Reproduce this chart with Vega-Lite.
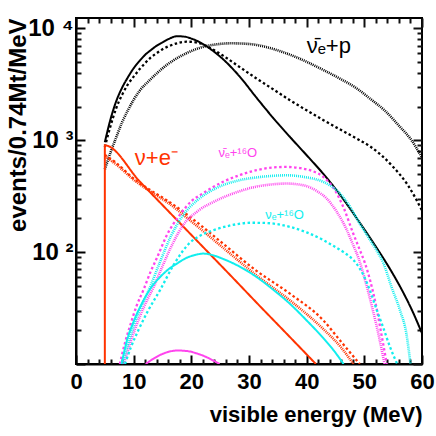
{
  "$schema": "https://vega.github.io/schema/vega-lite/v6.json",
  "width": 346,
  "height": 346,
  "autosize": {"type": "none"},
  "padding": {"left": 76, "top": 18, "right": 14, "bottom": 72},
  "background": "white",
  "config": {"view": {"stroke": "black", "strokeWidth": 2, "fill": "transparent"}, "font": "Liberation Sans", "axis": {"zindex": 1}},
  "datasets": {
    "curves": [
      {"reaction":"nuebar_p","model":"A","i":1,"E":5,"v":960},
      {"reaction":"nuebar_p","model":"A","i":2,"E":6,"v":1550},
      {"reaction":"nuebar_p","model":"A","i":3,"E":7,"v":2250},
      {"reaction":"nuebar_p","model":"A","i":4,"E":8,"v":2950},
      {"reaction":"nuebar_p","model":"A","i":5,"E":9,"v":3650},
      {"reaction":"nuebar_p","model":"A","i":6,"E":10,"v":4400},
      {"reaction":"nuebar_p","model":"A","i":7,"E":11,"v":5100},
      {"reaction":"nuebar_p","model":"A","i":8,"E":12,"v":5800},
      {"reaction":"nuebar_p","model":"A","i":9,"E":13,"v":6400},
      {"reaction":"nuebar_p","model":"A","i":10,"E":14,"v":7000},
      {"reaction":"nuebar_p","model":"A","i":11,"E":15,"v":7500},
      {"reaction":"nuebar_p","model":"A","i":12,"E":16,"v":8000},
      {"reaction":"nuebar_p","model":"A","i":13,"E":17.5,"v":8500},
      {"reaction":"nuebar_p","model":"A","i":14,"E":19,"v":8400},
      {"reaction":"nuebar_p","model":"A","i":15,"E":20,"v":8100},
      {"reaction":"nuebar_p","model":"A","i":16,"E":21.5,"v":7500},
      {"reaction":"nuebar_p","model":"A","i":17,"E":23.2,"v":6600},
      {"reaction":"nuebar_p","model":"A","i":18,"E":25.5,"v":5300},
      {"reaction":"nuebar_p","model":"A","i":19,"E":28.4,"v":3700},
      {"reaction":"nuebar_p","model":"A","i":20,"E":31.3,"v":2400},
      {"reaction":"nuebar_p","model":"A","i":21,"E":34.2,"v":1580},
      {"reaction":"nuebar_p","model":"A","i":22,"E":37.1,"v":1070},
      {"reaction":"nuebar_p","model":"A","i":23,"E":40,"v":734},
      {"reaction":"nuebar_p","model":"A","i":24,"E":42.9,"v":500},
      {"reaction":"nuebar_p","model":"A","i":25,"E":46.4,"v":295},
      {"reaction":"nuebar_p","model":"A","i":26,"E":49,"v":190},
      {"reaction":"nuebar_p","model":"A","i":27,"E":52.4,"v":104},
      {"reaction":"nuebar_p","model":"A","i":28,"E":54.5,"v":70},
      {"reaction":"nuebar_p","model":"A","i":29,"E":56.5,"v":46},
      {"reaction":"nuebar_p","model":"A","i":30,"E":58.3,"v":30},
      {"reaction":"nuebar_p","model":"A","i":31,"E":60,"v":18.8},

      {"reaction":"nuebar_p","model":"B","i":1,"E":5,"v":870},
      {"reaction":"nuebar_p","model":"B","i":2,"E":6,"v":1350},
      {"reaction":"nuebar_p","model":"B","i":3,"E":7,"v":1950},
      {"reaction":"nuebar_p","model":"B","i":4,"E":8,"v":2550},
      {"reaction":"nuebar_p","model":"B","i":5,"E":9,"v":3150},
      {"reaction":"nuebar_p","model":"B","i":6,"E":10,"v":3700},
      {"reaction":"nuebar_p","model":"B","i":7,"E":11,"v":4300},
      {"reaction":"nuebar_p","model":"B","i":8,"E":12,"v":4900},
      {"reaction":"nuebar_p","model":"B","i":9,"E":13,"v":5500},
      {"reaction":"nuebar_p","model":"B","i":10,"E":14,"v":6000},
      {"reaction":"nuebar_p","model":"B","i":11,"E":15,"v":6500},
      {"reaction":"nuebar_p","model":"B","i":12,"E":16,"v":6900},
      {"reaction":"nuebar_p","model":"B","i":13,"E":17.5,"v":7350},
      {"reaction":"nuebar_p","model":"B","i":14,"E":19.2,"v":7600},
      {"reaction":"nuebar_p","model":"B","i":15,"E":21,"v":7450},
      {"reaction":"nuebar_p","model":"B","i":16,"E":23.2,"v":6700},
      {"reaction":"nuebar_p","model":"B","i":17,"E":25.5,"v":5700},
      {"reaction":"nuebar_p","model":"B","i":18,"E":28.4,"v":4500},
      {"reaction":"nuebar_p","model":"B","i":19,"E":31.3,"v":3565},
      {"reaction":"nuebar_p","model":"B","i":20,"E":34.2,"v":2850},
      {"reaction":"nuebar_p","model":"B","i":21,"E":37.1,"v":2280},
      {"reaction":"nuebar_p","model":"B","i":22,"E":40,"v":1850},
      {"reaction":"nuebar_p","model":"B","i":23,"E":42.9,"v":1510},
      {"reaction":"nuebar_p","model":"B","i":24,"E":46.6,"v":1185},
      {"reaction":"nuebar_p","model":"B","i":25,"E":49.2,"v":1000},
      {"reaction":"nuebar_p","model":"B","i":26,"E":51,"v":880},
      {"reaction":"nuebar_p","model":"B","i":27,"E":53,"v":730},
      {"reaction":"nuebar_p","model":"B","i":28,"E":55,"v":577},
      {"reaction":"nuebar_p","model":"B","i":29,"E":57.5,"v":400},
      {"reaction":"nuebar_p","model":"B","i":30,"E":60,"v":236},

      {"reaction":"nuebar_p","model":"C","i":1,"E":5,"v":550},
      {"reaction":"nuebar_p","model":"C","i":2,"E":6,"v":780},
      {"reaction":"nuebar_p","model":"C","i":3,"E":7,"v":1070},
      {"reaction":"nuebar_p","model":"C","i":4,"E":8,"v":1450},
      {"reaction":"nuebar_p","model":"C","i":5,"E":9,"v":1850},
      {"reaction":"nuebar_p","model":"C","i":6,"E":10,"v":2300},
      {"reaction":"nuebar_p","model":"C","i":7,"E":11,"v":2750},
      {"reaction":"nuebar_p","model":"C","i":8,"E":12.8,"v":3450},
      {"reaction":"nuebar_p","model":"C","i":9,"E":15.7,"v":4690},
      {"reaction":"nuebar_p","model":"C","i":10,"E":18.6,"v":5800},
      {"reaction":"nuebar_p","model":"C","i":11,"E":21.5,"v":6700},
      {"reaction":"nuebar_p","model":"C","i":12,"E":24.4,"v":7200},
      {"reaction":"nuebar_p","model":"C","i":13,"E":27,"v":7350},
      {"reaction":"nuebar_p","model":"C","i":14,"E":30,"v":7250},
      {"reaction":"nuebar_p","model":"C","i":15,"E":33,"v":6800},
      {"reaction":"nuebar_p","model":"C","i":16,"E":36,"v":6100},
      {"reaction":"nuebar_p","model":"C","i":17,"E":39,"v":5300},
      {"reaction":"nuebar_p","model":"C","i":18,"E":42.9,"v":4240},
      {"reaction":"nuebar_p","model":"C","i":19,"E":46,"v":3500},
      {"reaction":"nuebar_p","model":"C","i":20,"E":48.7,"v":2900},
      {"reaction":"nuebar_p","model":"C","i":21,"E":51,"v":2350},
      {"reaction":"nuebar_p","model":"C","i":22,"E":53.5,"v":1850},
      {"reaction":"nuebar_p","model":"C","i":23,"E":56.2,"v":1316},
      {"reaction":"nuebar_p","model":"C","i":24,"E":58,"v":1030},
      {"reaction":"nuebar_p","model":"C","i":25,"E":59.6,"v":760},
      {"reaction":"nuebar_p","model":"C","i":26,"E":60,"v":700},

      {"reaction":"nu_e","model":"A","i":1,"E":5,"v":10},
      {"reaction":"nu_e","model":"A","i":2,"E":5,"v":900},
      {"reaction":"nu_e","model":"A","i":3,"E":11.1,"v":425},
      {"reaction":"nu_e","model":"A","i":4,"E":19.8,"v":146},
      {"reaction":"nu_e","model":"A","i":5,"E":27.9,"v":54},
      {"reaction":"nu_e","model":"A","i":6,"E":31.3,"v":35.4},
      {"reaction":"nu_e","model":"A","i":7,"E":37.1,"v":17.4},
      {"reaction":"nu_e","model":"A","i":8,"E":41.6,"v":10},

      {"reaction":"nu_e","model":"B","i":1,"E":5,"v":740},
      {"reaction":"nu_e","model":"B","i":2,"E":7,"v":625},
      {"reaction":"nu_e","model":"B","i":3,"E":10.2,"v":445},
      {"reaction":"nu_e","model":"B","i":4,"E":13,"v":355},
      {"reaction":"nu_e","model":"B","i":5,"E":16,"v":285},
      {"reaction":"nu_e","model":"B","i":6,"E":19.8,"v":206},
      {"reaction":"nu_e","model":"B","i":7,"E":25,"v":125},
      {"reaction":"nu_e","model":"B","i":8,"E":31.3,"v":68},
      {"reaction":"nu_e","model":"B","i":9,"E":37.1,"v":42.5},
      {"reaction":"nu_e","model":"B","i":10,"E":42.9,"v":24.5},
      {"reaction":"nu_e","model":"B","i":11,"E":45.8,"v":16.2},
      {"reaction":"nu_e","model":"B","i":12,"E":49.2,"v":10},

      {"reaction":"nu_e","model":"C","i":1,"E":5,"v":720},
      {"reaction":"nu_e","model":"C","i":2,"E":7,"v":605},
      {"reaction":"nu_e","model":"C","i":3,"E":10.2,"v":435},
      {"reaction":"nu_e","model":"C","i":4,"E":13,"v":345},
      {"reaction":"nu_e","model":"C","i":5,"E":16,"v":275},
      {"reaction":"nu_e","model":"C","i":6,"E":19.8,"v":192},
      {"reaction":"nu_e","model":"C","i":7,"E":25,"v":115},
      {"reaction":"nu_e","model":"C","i":8,"E":31.3,"v":62},
      {"reaction":"nu_e","model":"C","i":9,"E":37.1,"v":37},
      {"reaction":"nu_e","model":"C","i":10,"E":42.9,"v":20.5},
      {"reaction":"nu_e","model":"C","i":11,"E":46,"v":14},
      {"reaction":"nu_e","model":"C","i":12,"E":48.1,"v":10},

      {"reaction":"nuebar_O","model":"A","i":1,"E":12.1,"v":10},
      {"reaction":"nuebar_O","model":"A","i":2,"E":13,"v":10.8},
      {"reaction":"nuebar_O","model":"A","i":3,"E":14,"v":11.6},
      {"reaction":"nuebar_O","model":"A","i":4,"E":15.5,"v":12.6},
      {"reaction":"nuebar_O","model":"A","i":5,"E":17.7,"v":13.2},
      {"reaction":"nuebar_O","model":"A","i":6,"E":19.5,"v":13.0},
      {"reaction":"nuebar_O","model":"A","i":7,"E":21,"v":12.4},
      {"reaction":"nuebar_O","model":"A","i":8,"E":22.5,"v":11.6},
      {"reaction":"nuebar_O","model":"A","i":9,"E":24,"v":10.6},
      {"reaction":"nuebar_O","model":"A","i":10,"E":24.9,"v":10},

      {"reaction":"nuebar_O","model":"B","i":1,"E":7.6,"v":10},
      {"reaction":"nuebar_O","model":"B","i":2,"E":8.5,"v":15.5},
      {"reaction":"nuebar_O","model":"B","i":3,"E":9.5,"v":23},
      {"reaction":"nuebar_O","model":"B","i":4,"E":10.5,"v":33},
      {"reaction":"nuebar_O","model":"B","i":5,"E":11.7,"v":46},
      {"reaction":"nuebar_O","model":"B","i":6,"E":13,"v":68},
      {"reaction":"nuebar_O","model":"B","i":7,"E":14,"v":88},
      {"reaction":"nuebar_O","model":"B","i":8,"E":15.7,"v":140},
      {"reaction":"nuebar_O","model":"B","i":9,"E":18,"v":215},
      {"reaction":"nuebar_O","model":"B","i":10,"E":20,"v":285},
      {"reaction":"nuebar_O","model":"B","i":11,"E":22,"v":335},
      {"reaction":"nuebar_O","model":"B","i":12,"E":25.5,"v":425},
      {"reaction":"nuebar_O","model":"B","i":13,"E":28.5,"v":490},
      {"reaction":"nuebar_O","model":"B","i":14,"E":31.3,"v":540},
      {"reaction":"nuebar_O","model":"B","i":15,"E":34,"v":570},
      {"reaction":"nuebar_O","model":"B","i":16,"E":36.5,"v":577},
      {"reaction":"nuebar_O","model":"B","i":17,"E":39,"v":562},
      {"reaction":"nuebar_O","model":"B","i":18,"E":41,"v":530},
      {"reaction":"nuebar_O","model":"B","i":19,"E":42.9,"v":470},
      {"reaction":"nuebar_O","model":"B","i":20,"E":45,"v":350},
      {"reaction":"nuebar_O","model":"B","i":21,"E":46.4,"v":250},
      {"reaction":"nuebar_O","model":"B","i":22,"E":48,"v":150},
      {"reaction":"nuebar_O","model":"B","i":23,"E":49.2,"v":105},
      {"reaction":"nuebar_O","model":"B","i":24,"E":50.1,"v":80},
      {"reaction":"nuebar_O","model":"B","i":25,"E":51,"v":56},
      {"reaction":"nuebar_O","model":"B","i":26,"E":52.1,"v":32},
      {"reaction":"nuebar_O","model":"B","i":27,"E":53,"v":18},
      {"reaction":"nuebar_O","model":"B","i":28,"E":53.9,"v":10},

      {"reaction":"nuebar_O","model":"C","i":1,"E":8.3,"v":10},
      {"reaction":"nuebar_O","model":"C","i":2,"E":9.5,"v":16},
      {"reaction":"nuebar_O","model":"C","i":3,"E":11,"v":26},
      {"reaction":"nuebar_O","model":"C","i":4,"E":12.3,"v":37},
      {"reaction":"nuebar_O","model":"C","i":5,"E":13.4,"v":48},
      {"reaction":"nuebar_O","model":"C","i":6,"E":15,"v":75},
      {"reaction":"nuebar_O","model":"C","i":7,"E":16.8,"v":120},
      {"reaction":"nuebar_O","model":"C","i":8,"E":18.6,"v":175},
      {"reaction":"nuebar_O","model":"C","i":9,"E":21,"v":230},
      {"reaction":"nuebar_O","model":"C","i":10,"E":24.4,"v":290},
      {"reaction":"nuebar_O","model":"C","i":11,"E":28,"v":345},
      {"reaction":"nuebar_O","model":"C","i":12,"E":31.3,"v":385},
      {"reaction":"nuebar_O","model":"C","i":13,"E":34,"v":403},
      {"reaction":"nuebar_O","model":"C","i":14,"E":36.5,"v":410},
      {"reaction":"nuebar_O","model":"C","i":15,"E":39.5,"v":395},
      {"reaction":"nuebar_O","model":"C","i":16,"E":42,"v":345},
      {"reaction":"nuebar_O","model":"C","i":17,"E":43.5,"v":300},
      {"reaction":"nuebar_O","model":"C","i":18,"E":45.2,"v":230},
      {"reaction":"nuebar_O","model":"C","i":19,"E":46.9,"v":160},
      {"reaction":"nuebar_O","model":"C","i":20,"E":48,"v":118},
      {"reaction":"nuebar_O","model":"C","i":21,"E":49,"v":88},
      {"reaction":"nuebar_O","model":"C","i":22,"E":50.4,"v":50},
      {"reaction":"nuebar_O","model":"C","i":23,"E":51.5,"v":30},
      {"reaction":"nuebar_O","model":"C","i":24,"E":52.6,"v":17},
      {"reaction":"nuebar_O","model":"C","i":25,"E":53.5,"v":10},

      {"reaction":"nue_O","model":"A","i":1,"E":7.9,"v":10},
      {"reaction":"nue_O","model":"A","i":2,"E":8.8,"v":16},
      {"reaction":"nue_O","model":"A","i":3,"E":10,"v":24},
      {"reaction":"nue_O","model":"A","i":4,"E":11.7,"v":37},
      {"reaction":"nue_O","model":"A","i":5,"E":13,"v":48},
      {"reaction":"nue_O","model":"A","i":6,"E":14.6,"v":60},
      {"reaction":"nue_O","model":"A","i":7,"E":16,"v":70},
      {"reaction":"nue_O","model":"A","i":8,"E":17.5,"v":79},
      {"reaction":"nue_O","model":"A","i":9,"E":19,"v":88},
      {"reaction":"nue_O","model":"A","i":10,"E":20.9,"v":95},
      {"reaction":"nue_O","model":"A","i":11,"E":22.1,"v":97},
      {"reaction":"nue_O","model":"A","i":12,"E":24,"v":93},
      {"reaction":"nue_O","model":"A","i":13,"E":25.5,"v":87},
      {"reaction":"nue_O","model":"A","i":14,"E":28,"v":76},
      {"reaction":"nue_O","model":"A","i":15,"E":31.3,"v":60},
      {"reaction":"nue_O","model":"A","i":16,"E":34,"v":47},
      {"reaction":"nue_O","model":"A","i":17,"E":37.1,"v":34.5},
      {"reaction":"nue_O","model":"A","i":18,"E":40,"v":24.5},
      {"reaction":"nue_O","model":"A","i":19,"E":42.9,"v":17},
      {"reaction":"nue_O","model":"A","i":20,"E":44.8,"v":13},
      {"reaction":"nue_O","model":"A","i":21,"E":46.4,"v":10},

      {"reaction":"nue_O","model":"B","i":1,"E":8.5,"v":10},
      {"reaction":"nue_O","model":"B","i":2,"E":9.5,"v":14},
      {"reaction":"nue_O","model":"B","i":3,"E":11,"v":21},
      {"reaction":"nue_O","model":"B","i":4,"E":12.5,"v":30},
      {"reaction":"nue_O","model":"B","i":5,"E":14.6,"v":46},
      {"reaction":"nue_O","model":"B","i":6,"E":17,"v":78},
      {"reaction":"nue_O","model":"B","i":7,"E":19.8,"v":122},
      {"reaction":"nue_O","model":"B","i":8,"E":21.5,"v":140},
      {"reaction":"nue_O","model":"B","i":9,"E":24,"v":158},
      {"reaction":"nue_O","model":"B","i":10,"E":27,"v":174},
      {"reaction":"nue_O","model":"B","i":11,"E":30.2,"v":183},
      {"reaction":"nue_O","model":"B","i":12,"E":33,"v":182},
      {"reaction":"nue_O","model":"B","i":13,"E":37.1,"v":168},
      {"reaction":"nue_O","model":"B","i":14,"E":40,"v":150},
      {"reaction":"nue_O","model":"B","i":15,"E":42.9,"v":128},
      {"reaction":"nue_O","model":"B","i":16,"E":44.6,"v":114},
      {"reaction":"nue_O","model":"B","i":17,"E":46.4,"v":100},
      {"reaction":"nue_O","model":"B","i":18,"E":48.7,"v":78},
      {"reaction":"nue_O","model":"B","i":19,"E":50,"v":60},
      {"reaction":"nue_O","model":"B","i":20,"E":51,"v":45},
      {"reaction":"nue_O","model":"B","i":21,"E":52.2,"v":30},
      {"reaction":"nue_O","model":"B","i":22,"E":53.3,"v":21},
      {"reaction":"nue_O","model":"B","i":23,"E":54.5,"v":14},
      {"reaction":"nue_O","model":"B","i":24,"E":55.7,"v":10},

      {"reaction":"nue_O","model":"C","i":1,"E":8,"v":10},
      {"reaction":"nue_O","model":"C","i":2,"E":9,"v":15},
      {"reaction":"nue_O","model":"C","i":3,"E":10,"v":22},
      {"reaction":"nue_O","model":"C","i":4,"E":11,"v":30},
      {"reaction":"nue_O","model":"C","i":5,"E":12.8,"v":48},
      {"reaction":"nue_O","model":"C","i":6,"E":14.5,"v":80},
      {"reaction":"nue_O","model":"C","i":7,"E":16.5,"v":140},
      {"reaction":"nue_O","model":"C","i":8,"E":18.6,"v":215},
      {"reaction":"nue_O","model":"C","i":9,"E":21,"v":290},
      {"reaction":"nue_O","model":"C","i":10,"E":24.4,"v":375},
      {"reaction":"nue_O","model":"C","i":11,"E":28,"v":435},
      {"reaction":"nue_O","model":"C","i":12,"E":31.3,"v":465},
      {"reaction":"nue_O","model":"C","i":13,"E":34,"v":480},
      {"reaction":"nue_O","model":"C","i":14,"E":36.5,"v":486},
      {"reaction":"nue_O","model":"C","i":15,"E":39.5,"v":470},
      {"reaction":"nue_O","model":"C","i":16,"E":42.9,"v":424},
      {"reaction":"nue_O","model":"C","i":17,"E":45.2,"v":357},
      {"reaction":"nue_O","model":"C","i":18,"E":47.2,"v":270},
      {"reaction":"nue_O","model":"C","i":19,"E":49.2,"v":180},
      {"reaction":"nue_O","model":"C","i":20,"E":51,"v":128},
      {"reaction":"nue_O","model":"C","i":21,"E":52.1,"v":104},
      {"reaction":"nue_O","model":"C","i":22,"E":53.3,"v":80},
      {"reaction":"nue_O","model":"C","i":23,"E":54.7,"v":49},
      {"reaction":"nue_O","model":"C","i":24,"E":56.2,"v":30},
      {"reaction":"nue_O","model":"C","i":25,"E":57.3,"v":18.6},
      {"reaction":"nue_O","model":"C","i":26,"E":58,"v":10}
    ],
    "bigLabels": [
      {"t": "ν+e⁻", "E": 10.2, "v": 597, "reaction": "nu_e"},
      {"t": "ν̄ₑ+p", "E": 40.0, "v": 6010, "reaction": "nuebar_p"}
    ],
    "smallLabels": [
      {"t": "ν̄ₑ+¹⁶O", "E": 24.7, "v": 708, "reaction": "nuebar_O"},
      {"t": "νₑ+¹⁶O", "E": 32.8, "v": 196, "reaction": "nue_O"}
    ]
  },
  "layer": [
    {
      "data": {"name": "curves"},
      "mark": {"type": "line", "clip": true, "interpolate": "monotone"},
      "encoding": {
        "x": {
          "field": "E", "type": "quantitative",
          "scale": {"domain": [0, 60], "nice": false, "zero": false},
          "axis": {
            "orient": "bottom",
            "values": [0, 10, 20, 30, 40, 50, 60],
            "tickSize": -9, "tickColor": "black", "tickWidth": 2,
            "domainColor": "black", "domainWidth": 2,
            "labelFont": "Liberation Sans", "labelFontWeight": "bold", "labelFontSize": 22, "labelColor": "black",
            "labelPadding": 16, "labelFlush": false, "labelOverlap": false, "labelBound": false,
            "grid": false,
            "title": "visible energy (MeV)",
            "titleFont": "Liberation Sans", "titleFontSize": 22, "titleFontWeight": "bold", "titleColor": "black",
            "titleAnchor": "end", "titlePadding": 12
          }
        },
        "y": {
          "field": "v", "type": "quantitative",
          "scale": {"type": "log", "domain": [10, 12370], "nice": false},
          "axis": {
            "orient": "left",
            "values": [10, 100, 1000, 10000],
            "labelExpr": "datum.value == 100 ? '10 ²' : datum.value == 1000 ? '10 ³' : datum.value == 10000 ? '10 ⁴' : ''",
            "tickSize": -9, "tickColor": "black", "tickWidth": 2,
            "domainColor": "black", "domainWidth": 2,
            "labelFont": "Liberation Sans", "labelFontWeight": "bold", "labelFontSize": 24, "labelColor": "black",
            "labelPadding": 12, "labelFlush": false, "labelOverlap": false, "labelBound": false,
            "grid": false,
            "title": "events/0.74Mt/MeV",
            "titleFont": "Liberation Sans", "titleFontSize": 24, "titleFontWeight": "bold", "titleColor": "black",
            "titleAnchor": "end", "titlePadding": -3
          }
        },
        "color": {
          "field": "reaction", "type": "nominal",
          "scale": {"domain": ["nuebar_p", "nu_e", "nuebar_O", "nue_O"], "range": ["#000000", "#ff3300", "#ff44ee", "#11eeee"]},
          "legend": null
        },
        "strokeDash": {
          "field": "model", "type": "nominal",
          "scale": {"domain": ["A", "B", "C"], "range": [[1, 0], [2.5, 2.5], [1, 1]]},
          "legend": null
        },
        "strokeWidth": {
          "field": "model", "type": "nominal",
          "scale": {"domain": ["A", "B", "C"], "range": [2, 2.6, 1.2]},
          "legend": null
        },
        "order": {"field": "i", "type": "quantitative"}
      }
    },
    {
      "data": {"name": "bigLabels"},
      "mark": {"type": "text", "align": "left", "baseline": "alphabetic", "fontSize": 22, "font": "Liberation Sans"},
      "encoding": {
        "x": {"field": "E", "type": "quantitative", "axis": null},
        "y": {"field": "v", "type": "quantitative", "axis": null},
        "text": {"field": "t"},
        "color": {"field": "reaction", "type": "nominal", "legend": null}
      }
    },
    {
      "data": {"name": "smallLabels"},
      "mark": {"type": "text", "align": "left", "baseline": "alphabetic", "fontSize": 13, "font": "Liberation Sans"},
      "encoding": {
        "x": {"field": "E", "type": "quantitative", "axis": null},
        "y": {"field": "v", "type": "quantitative", "axis": null},
        "text": {"field": "t"},
        "color": {"field": "reaction", "type": "nominal", "legend": null}
      }
    },
    {
      "data": {"name": "curves"},
      "mark": {"type": "point", "opacity": 0},
      "encoding": {
        "x": {
          "field": "E", "type": "quantitative",
          "axis": {
            "orient": "bottom",
            "values": [2,4,6,8,12,14,16,18,22,24,26,28,32,34,36,38,42,44,46,48,52,54,56,58],
            "labels": false, "title": null, "domain": false, "gridOpacity": 0,
            "tickSize": -5, "tickColor": "#111111", "tickWidth": 2
          }
        },
        "y": {
          "field": "v", "type": "quantitative",
          "axis": {
            "orient": "left",
            "values": [20,30,40,50,60,70,80,90,200,300,400,500,600,700,800,900,2000,3000,4000,5000,6000,7000,8000,9000],
            "labels": false, "title": null, "domain": false, "gridOpacity": 0,
            "tickSize": -5, "tickColor": "#111111", "tickWidth": 2
          }
        }
      }
    },
    {
      "data": {"name": "curves"},
      "mark": {"type": "point", "opacity": 0},
      "encoding": {
        "x": {
          "field": "E", "type": "quantitative",
          "axis": {
            "orient": "top",
            "values": [0, 10, 20, 30, 40, 50, 60],
            "labels": false, "title": null, "domain": false, "gridOpacity": 0,
            "tickSize": -9, "tickColor": "#111111", "tickWidth": 2
          }
        },
        "y": {
          "field": "v", "type": "quantitative",
          "axis": {
            "orient": "right",
            "values": [10, 100, 1000, 10000],
            "labels": false, "title": null, "domain": false, "gridOpacity": 0,
            "tickSize": -9, "tickColor": "#111111", "tickWidth": 2
          }
        }
      }
    },
    {
      "data": {"name": "curves"},
      "mark": {"type": "point", "opacity": 0},
      "encoding": {
        "x": {
          "field": "E", "type": "quantitative",
          "axis": {
            "orient": "top",
            "values": [2,4,6,8,12,14,16,18,22,24,26,28,32,34,36,38,42,44,46,48,52,54,56,58],
            "labels": false, "title": null, "domain": false, "gridOpacity": 0,
            "tickSize": -5, "tickColor": "#111111", "tickWidth": 2
          }
        },
        "y": {
          "field": "v", "type": "quantitative",
          "axis": {
            "orient": "right",
            "values": [20,30,40,50,60,70,80,90,200,300,400,500,600,700,800,900,2000,3000,4000,5000,6000,7000,8000,9000],
            "labels": false, "title": null, "domain": false, "gridOpacity": 0,
            "tickSize": -5, "tickColor": "#111111", "tickWidth": 2
          }
        }
      }
    }
  ],
  "resolve": {"axis": {"x": "independent", "y": "independent"}}
}
